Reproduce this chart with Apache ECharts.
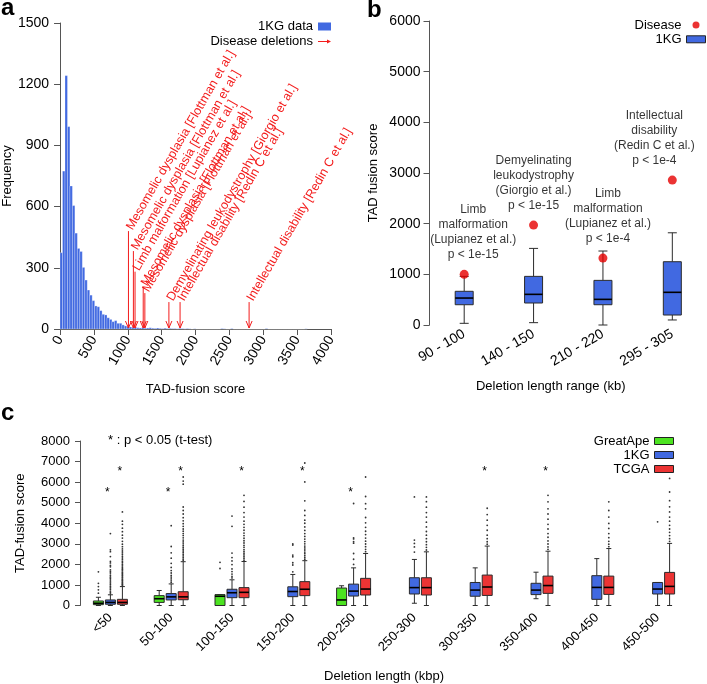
<!DOCTYPE html>
<html><head><meta charset="utf-8">
<script src="https://cdn.jsdelivr.net/npm/echarts@6/dist/echarts.min.js"></script>
<style>html,body{margin:0;padding:0;background:#fff}#c{width:707px;height:684px}</style>
</head><body><div id="c"></div>
<script>
const FONT = 'Liberation Sans, Arial, Helvetica, sans-serif';

// ---------------- Panel a data ----------------
const histBinWidth = 36.5;
const histCounts = [374, 774, 1242, 992, 701, 605, 470, 395, 380, 302, 240, 191, 166, 139, 113, 109, 90, 72, 69, 55,
  47, 36, 41, 28, 28, 20, 15, 12, 10, 8, 9, 6, 5, 7, 4, 5, 6, 4, 3, 5, 3, 2, 4, 2, 3, 2, 2, 1, 3, 2,
  1, 2, 1, 0, 1, 0, 0, 0, 0, 0, 0, 0, 0, 0, 0, 2, 1, 0, 0, 2, 0, 0, 0, 0, 0, 0, 0, 0, 0, 0,
  0, 0, 0, 2, 0, 0, 0, 0, 0, 0, 0, 0, 0, 0, 0, 0, 0, 0, 0, 1];
const diseaseNames = [
  'Mesomelic dysplasia [Flottman et al.]',
  'Mesomelic dysplasia [Flottman et al.]',
  'Limb malformation [Lupianez et al.]',
  'Mesomelic dysplasia [Flottman et al.]',
  'Mesomelic dysplasia [Flottman et al.]',
  'Demyelinating leukodystrophy [Giorgio et al.]',
  'Intellectual disability [Redin C et al.]',
  'Intellectual disability [Redin C et al.]'
];
const diseaseScores = [1010, 1083, 1107, 1228, 1252, 1607, 1772, 2791];
const diseaseArrowTops = [480, 382, 281, 206, 176, 132, 132, 132];

// ---------------- Panel b data ----------------
const bCategories = ['90 - 100', '140 - 150', '210 - 220', '295 - 305'];
const b1KGStats = [[33, 400, 532, 665, 960], [46, 434, 605, 960, 1512], [0, 400, 506, 881, 1460], [99, 197, 645, 1249, 1820]];
const bDiseaseScores = [1000, 1972, 1321, 2860];
const bAnnotations = [
  'Limb\nmalformation\n(Lupianez et al.)\np < 1e-15',
  'Demyelinating\nleukodystrophy\n(Giorgio et al.)\np < 1e-15',
  'Limb\nmalformation\n(Lupianez et al.)\np < 1e-4',
  'Intellectual\ndisability\n(Redin C et al.)\np < 1e-4'
];

// ---------------- Panel c data ----------------
const cCategories = ['<50', '50-100', '100-150', '150-200', '200-250', '250-300', '300-350', '350-400', '400-450', '450-500'];
const cGreatApeStats = [[0, 40, 110, 220, 400], [0, 150, 330, 480, 730], [0, 0, 450, 530, 530], null, [0, 0, 270, 850, 960], null, null, null, null, null];
const c1KGStats = [[0, 60, 150, 270, 520], [0, 270, 420, 580, 1050], [0, 380, 620, 790, 1250], [0, 430, 680, 910, 1510], [0, 460, 700, 1040, 1830],
  [110, 560, 870, 1350, 2240], [0, 450, 750, 1120, 1830], [330, 530, 750, 1080, 1620], [0, 300, 880, 1450, 2280], [0, 560, 800, 1120, 1120]];
const cTCGAStats = [[0, 60, 150, 300, 920], [0, 280, 420, 670, 2130], [0, 380, 640, 870, 2140], [0, 480, 790, 1160, 2180], [0, 510, 800, 1320, 2530],
  [0, 510, 870, 1350, 2610], [0, 490, 900, 1480, 2890], [0, 590, 970, 1430, 2640], [0, 540, 880, 1430, 2770], [0, 560, 930, 1610, 3020]];
const cGreatApeOutliers = [[600, 760, 920, 1080, 1640], [], [1800, 2100], [], [], [], [], [], [], []];
const c1KGOutliers = [
  [570, 640, 700, 790, 860, 930, 1010, 1090, 1150, 1240, 1330, 1390, 1470, 1580, 1650, 1730, 1880, 1950, 2070, 2150, 2380, 2620, 2710, 3500],
  [1120, 1200, 1290, 1380, 1460, 1580, 1700, 1850, 2050, 2300, 2560, 2870, 3880],
  [1340, 1420, 1530, 1650, 1780, 1990, 2170, 2330, 2550, 3850, 4350],
  [1640, 1970, 2080, 2370, 2450, 2940, 2990],
  [2000, 2250, 2530, 3030, 3100, 3240, 3290, 4960],
  [2600, 2850, 3020, 3180, 5280],
  [], [], [], [4070]
];
const cTCGAOutliers = [
  [960, 1010, 1050, 1100, 1140, 1190, 1230, 1280, 1340, 1390, 1450, 1500, 1560, 1610, 1680, 1740, 1790, 1860, 1930, 2000, 2080, 2150, 2230, 2310, 2400, 2490, 2560, 2650, 2750, 2860, 2980, 3120, 3280, 3420, 3590, 3760, 3950, 4100, 4550],
  [2200, 2260, 2330, 2410, 2490, 2570, 2650, 2740, 2820, 2910, 3000, 3090, 3180, 3290, 3400, 3500, 3610, 3720, 3850, 3980, 4120, 4270, 4450, 4620, 4790, 5900, 6050, 6250],
  [2200, 2290, 2370, 2460, 2540, 2630, 2720, 2830, 2920, 3040, 3150, 3270, 3400, 3520, 3660, 3800, 3950, 4100, 4300, 4520, 4780, 5060, 5360],
  [2250, 2330, 2420, 2520, 2600, 2700, 2800, 2890, 3000, 3110, 3230, 3360, 3500, 3650, 3820, 4000, 4150, 4380, 4620, 5090, 6010, 6930],
  [2620, 2730, 2860, 2990, 3130, 3280, 3450, 3610, 3800, 4020, 4280, 4700, 4950, 5300, 6250],
  [2700, 2830, 2960, 3100, 3250, 3420, 3600, 3820, 4050, 4300, 4520, 4780, 5050, 5280],
  [2980, 3100, 3250, 3420, 3660, 3900, 4150, 4420, 4730],
  [2730, 2850, 2990, 3140, 3320, 3500, 3720, 3950, 4200, 4450, 4700, 5040, 5360],
  [2860, 2980, 3120, 3300, 3500, 3750, 3990, 4300, 4620, 5040],
  [3120, 3250, 3400, 3560, 3720, 3900, 4100, 4300, 4550, 4800, 5100, 5520, 6180]
];
const cStars1KG = ['<50', '50-100', '200-250'];
const cStarsTCGA = ['<50', '50-100', '100-150', '150-200', '300-350', '350-400'];
const cStarLevel1KG = 5510;
const cStarLevelTCGA = 6515;

// ---------------- styles ----------------
const BLUE = '#4169e1', RED = '#ec3434', GREEN = '#4ce321', ARROW_RED = '#f31c1c', DOT_RED = '#e60000';
const AXIS_COLOR = '#555';
const bAnnotationShift = [9, 0, 5, -18];
const cOffsets = { GreatApe: -12, '1KG': 0, TCGA: 12 };
const cBoxWidth = 10, bBoxWidth = 18;

function boxRenderer(offsetPx, widthPx, fill) {
  return function (params, api) {
    const cat = api.value(0);
    const pts = [1, 2, 3, 4, 5].map(d => api.coord([cat, api.value(d)]));
    const x = pts[0][0] + offsetPx;
    const yMin = pts[0][1], yQ1 = pts[1][1], yMed = pts[2][1], yQ3 = pts[3][1], yMax = pts[4][1];
    const hw = widthPx / 2, cw = widthPx * 0.25;
    const ls = { stroke: '#2b2b2b', lineWidth: 1 };
    return {
      type: 'group', children: [
        { type: 'line', shape: { x1: x, y1: yQ3, x2: x, y2: yMax }, style: ls },
        { type: 'line', shape: { x1: x, y1: yQ1, x2: x, y2: yMin }, style: ls },
        { type: 'line', shape: { x1: x - cw, y1: yMax, x2: x + cw, y2: yMax }, style: ls },
        { type: 'line', shape: { x1: x - cw, y1: yMin, x2: x + cw, y2: yMin }, style: ls },
        { type: 'rect', shape: { x: x - hw, y: yQ3, width: widthPx, height: Math.max(yQ1 - yQ3, 0.5) }, style: { fill: fill, stroke: '#2b2b2b', lineWidth: 1 } },
        { type: 'line', shape: { x1: x - hw, y1: yMed, x2: x + hw, y2: yMed }, style: { stroke: '#000', lineWidth: 1.6 } }
      ]
    };
  };
}
function dotRenderer(offsetPx) {
  return function (params, api) {
    const p = api.coord([api.value(0), api.value(1)]);
    return { type: 'circle', shape: { cx: p[0] + offsetPx, cy: p[1], r: 0.9 }, style: { fill: '#333' } };
  };
}
function starRenderer(offsetPx) {
  return function (params, api) {
    const p = api.coord([api.value(0), api.value(1)]);
    return { type: 'text', x: p[0] + offsetPx, y: p[1], style: { text: '*', fill: '#000', fontSize: 12, fontFamily: FONT, align: 'center', verticalAlign: 'middle' } };
  };
}
function statsData(stats) {
  const out = [];
  stats.forEach((s, i) => { if (s) out.push([cCategories[i]].concat(s)); });
  return out;
}
function outlierData(lists) {
  const out = [];
  lists.forEach((l, i) => l.forEach(v => out.push([cCategories[i], v])));
  return out;
}

const histData = histCounts.map((c, i) => [i * histBinWidth, (i + 1) * histBinWidth, c]);
const arrowData = diseaseScores.map((s, i) => [s, diseaseArrowTops[i]]);

const txt = { color: '#000', fontSize: 13, fontFamily: FONT };
const txt14 = { color: '#000', fontSize: 14, fontFamily: FONT };
const plain = v => String(v);
const axisLineStyle = { show: true, lineStyle: { color: AXIS_COLOR, width: 1 } };

const option = {
  animation: false,
  textStyle: { fontFamily: FONT },
  graphic: [
    { type: 'text', left: 1, top: -4, style: { text: 'a', font: 'bold 24px ' + FONT, fill: '#000' } },
    { type: 'text', left: 367, top: -2, style: { text: 'b', font: 'bold 24px ' + FONT, fill: '#000' } },
    { type: 'text', left: 1, top: 401, style: { text: 'c', font: 'bold 24px ' + FONT, fill: '#000' } },
    { type: 'text', left: 108, top: 434, style: { text: '* : p < 0.05 (t-test)', font: '13px ' + FONT, fill: '#000' } }
  ],
  legend: [
    {
      data: [
        { name: '1KG data', icon: 'rect', itemStyle: { color: BLUE, borderWidth: 0 } },
        { name: 'Disease deletions', icon: 'path://M0,0M0,3.5L9,3.5L9,2L13,4L9,6L9,4.5L0,4.5ZM13,8', itemStyle: { color: ARROW_RED, borderWidth: 0 } }
      ],
      orient: 'vertical', align: 'right', right: 376, top: 20, padding: 0, itemGap: 2,
      itemWidth: 13, itemHeight: 8, selectedMode: false, textStyle: txt
    },
    {
      data: [
        { name: 'Disease', icon: 'circle', itemStyle: { color: DOT_RED, borderWidth: 0 } },
        { name: '1KG', icon: 'rect', itemStyle: { color: BLUE, borderColor: '#222', borderWidth: 1 } }
      ],
      orient: 'vertical', align: 'right', right: 1, top: 18.5, padding: 0, itemGap: 1.3,
      itemWidth: 19, itemHeight: 7, selectedMode: false, textStyle: txt
    },
    {
      data: [
        { name: 'GreatApe', icon: 'rect', itemStyle: { color: GREEN, borderColor: '#222', borderWidth: 1 } },
        { name: '1KG', icon: 'rect', itemStyle: { color: BLUE, borderColor: '#222', borderWidth: 1 } },
        { name: 'TCGA', icon: 'rect', itemStyle: { color: RED, borderColor: '#222', borderWidth: 1 } }
      ],
      orient: 'vertical', align: 'right', right: 33, top: 434.5, padding: 0, itemGap: 1,
      itemWidth: 19, itemHeight: 7, selectedMode: false, textStyle: txt
    }
  ],
  grid: [
    { left: 58, top: 23, width: 273, height: 306 },
    { left: 429.5, top: 21, width: 292, height: 304 },
    { left: 80, top: 441, width: 608, height: 164.5 }
  ],
  xAxis: [
    {
      type: 'value', gridIndex: 0, min: 0, max: 4000, interval: 500,
      axisLine: axisLineStyle, axisTick: { show: true, length: 6, lineStyle: { color: AXIS_COLOR } },
      axisLabel: Object.assign({ rotate: 60, margin: 8, formatter: plain }, txt14), splitLine: { show: false },
      name: 'TAD-fusion score', nameLocation: 'middle', nameGap: 54, nameTextStyle: txt
    },
    {
      type: 'category', gridIndex: 1, data: bCategories,
      axisLine: { show: false }, axisTick: { show: false },
      axisLabel: Object.assign({ rotate: 30, margin: 8, interval: 0 }, txt14),
      name: 'Deletion length range (kb)', nameLocation: 'middle', nameGap: 55,
      nameTextStyle: Object.assign({ padding: [0, 35, 0, 0] }, txt)
    },
    {
      type: 'category', gridIndex: 2, data: cCategories,
      axisLine: { show: false }, axisTick: { show: false },
      axisLabel: Object.assign({ rotate: 45, margin: 10, interval: 0 }, txt),
      name: 'Deletion length (kbp)', nameLocation: 'middle', nameGap: 64, nameTextStyle: txt
    }
  ],
  yAxis: [
    {
      type: 'value', gridIndex: 0, min: 0, max: 1500, interval: 300,
      axisLine: axisLineStyle, axisTick: { show: true, length: 6, lineStyle: { color: AXIS_COLOR } },
      axisLabel: Object.assign({ margin: 11, formatter: plain }, txt14), splitLine: { show: false },
      name: 'Frequency', nameLocation: 'middle', nameGap: 44, nameTextStyle: txt
    },
    {
      type: 'value', gridIndex: 1, min: 0, max: 6000, interval: 1000,
      axisLine: axisLineStyle, axisTick: { show: true, length: 6, lineStyle: { color: AXIS_COLOR } },
      axisLabel: Object.assign({ margin: 9, formatter: plain }, txt14), splitLine: { show: false },
      name: 'TAD fusion score', nameLocation: 'middle', nameGap: 50, nameTextStyle: txt
    },
    {
      type: 'value', gridIndex: 2, min: 0, max: 8000, interval: 1000,
      axisLine: axisLineStyle, axisTick: { show: true, length: 5, lineStyle: { color: AXIS_COLOR } },
      axisLabel: Object.assign({ margin: 10, formatter: plain }, txt), splitLine: { show: false },
      name: 'TAD-fusion score', nameLocation: 'middle', nameGap: 53, nameTextStyle: txt
    }
  ],
  series: [
    {
      name: '1KG data', type: 'custom', xAxisIndex: 0, yAxisIndex: 0, data: histData,
      encode: { x: [0, 1], y: 2 },
      renderItem: function (params, api) {
        const p0 = api.coord([api.value(0), api.value(2)]);
        const p1 = api.coord([api.value(1), 0]);
        return { type: 'rect', shape: { x: p0[0], y: p0[1], width: p1[0] - p0[0], height: p1[1] - p0[1] }, style: { fill: BLUE, stroke: 'rgba(255,255,255,0.45)', lineWidth: 0.6 } };
      }
    },
    {
      name: 'Disease deletions', type: 'custom', xAxisIndex: 0, yAxisIndex: 0, data: arrowData, clip: false,
      encode: { x: 0, y: 1 },
      renderItem: function (params, api) {
        const x = api.value(0), top = api.value(1);
        const pT = api.coord([x, top]);
        const pB = api.coord([x, 0]);
        return {
          type: 'group', children: [
            { type: 'line', shape: { x1: pT[0], y1: pT[1], x2: pB[0], y2: pB[1] - 1 }, style: { stroke: ARROW_RED, lineWidth: 1 } },
            { type: 'polyline', shape: { points: [[pB[0] - 3, pB[1] - 8], [pB[0], pB[1] - 1], [pB[0] + 3, pB[1] - 8]] }, style: { stroke: ARROW_RED, lineWidth: 1, fill: 'none' } },
            { type: 'text', x: pT[0] + 1, y: pT[1] - 2, rotation: Math.PI / 3, style: { text: diseaseNames[params.dataIndex], fill: ARROW_RED, fontSize: 12.5, fontFamily: FONT, align: 'left', verticalAlign: 'middle' } }
          ]
        };
      }
    },
    {
      name: '1KG', type: 'custom', xAxisIndex: 1, yAxisIndex: 1,
      data: b1KGStats.map((s, i) => [bCategories[i]].concat(s)),
      encode: { x: 0, y: [1, 2, 3, 4, 5] },
      renderItem: boxRenderer(0, bBoxWidth, BLUE)
    },
    {
      name: 'Disease', type: 'scatter', xAxisIndex: 1, yAxisIndex: 1,
      data: bDiseaseScores.map((v, i) => ({
        value: [bCategories[i], v],
        label: { offset: [bAnnotationShift[i], 0] }
      })),
      symbol: 'circle', symbolSize: 9, itemStyle: { color: DOT_RED },
      label: {
        show: true, position: 'top', distance: 7.5, align: 'center', lineHeight: 15,
        color: '#000', fontSize: 12, fontFamily: FONT,
        formatter: p => bAnnotations[p.dataIndex]
      }
    },
    { name: 'GreatApe', type: 'custom', xAxisIndex: 2, yAxisIndex: 2, data: statsData(cGreatApeStats), encode: { x: 0, y: [1, 2, 3, 4, 5] }, renderItem: boxRenderer(cOffsets.GreatApe, cBoxWidth, GREEN) },
    { name: '1KG', type: 'custom', xAxisIndex: 2, yAxisIndex: 2, data: statsData(c1KGStats), encode: { x: 0, y: [1, 2, 3, 4, 5] }, renderItem: boxRenderer(cOffsets['1KG'], cBoxWidth, BLUE) },
    { name: 'TCGA', type: 'custom', xAxisIndex: 2, yAxisIndex: 2, data: statsData(cTCGAStats), encode: { x: 0, y: [1, 2, 3, 4, 5] }, renderItem: boxRenderer(cOffsets.TCGA, cBoxWidth, RED) },
    { name: 'GreatApe outliers', type: 'custom', xAxisIndex: 2, yAxisIndex: 2, data: outlierData(cGreatApeOutliers), encode: { x: 0, y: 1 }, renderItem: dotRenderer(cOffsets.GreatApe) },
    { name: '1KG outliers', type: 'custom', xAxisIndex: 2, yAxisIndex: 2, data: outlierData(c1KGOutliers), encode: { x: 0, y: 1 }, renderItem: dotRenderer(cOffsets['1KG']) },
    { name: 'TCGA outliers', type: 'custom', xAxisIndex: 2, yAxisIndex: 2, data: outlierData(cTCGAOutliers), encode: { x: 0, y: 1 }, renderItem: dotRenderer(cOffsets.TCGA) },
    { name: '1KG stars', type: 'custom', xAxisIndex: 2, yAxisIndex: 2, data: cStars1KG.map(c => [c, cStarLevel1KG]), encode: { x: 0, y: 1 }, renderItem: starRenderer(cOffsets['1KG'] - 3) },
    { name: 'TCGA stars', type: 'custom', xAxisIndex: 2, yAxisIndex: 2, data: cStarsTCGA.map(c => [c, cStarLevelTCGA]), encode: { x: 0, y: 1 }, renderItem: starRenderer(cOffsets.TCGA - 2.5) }
  ]
};
const chart = echarts.init(document.getElementById('c'), null, { renderer: 'canvas' });
chart.setOption(option);
</script>
</body></html>
